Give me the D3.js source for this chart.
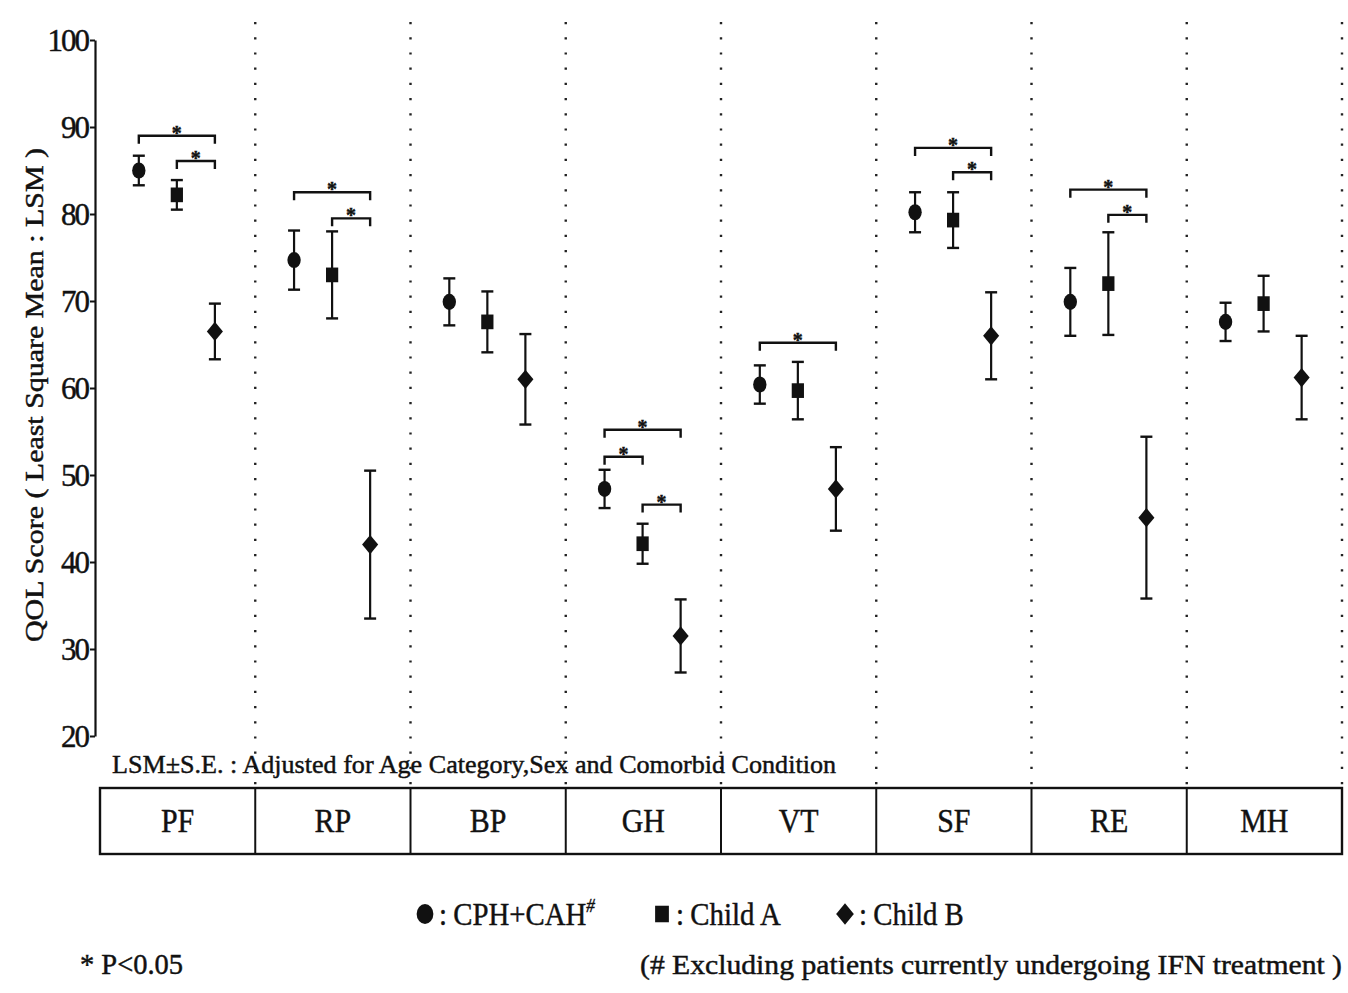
<!DOCTYPE html>
<html><head><meta charset="utf-8">
<script src="https://cdn.jsdelivr.net/npm/d3@7"></script>
<style>body{margin:0;background:#fff}svg{display:block}text{font-family:"Liberation Serif","Times New Roman",serif;fill:#111;stroke:#111;stroke-width:0.45px}</style>
</head><body>
<svg id="c" width="1348" height="993"></svg>
<script>
const categories = ["PF","RP","BP","GH","VT","SF","RE","MH"];
const seriesNames = ["CPH+CAH","Child A","Child B"];
const cphMean   = [85.0, 74.7, 69.9, 48.4, 60.4, 80.2, 69.9, 67.6];
const cphSE     = [1.7, 3.4, 2.7, 2.2, 2.2, 2.3, 3.9, 2.2];
const childAMean= [82.2, 73.0, 67.6, 42.1, 59.7, 79.3, 72.0, 69.7];
const childASE  = [1.7, 5.0, 3.5, 2.3, 3.3, 3.2, 5.9, 3.2];
const childBMean= [66.5, 42.0, 61.0, 31.5, 48.4, 66.0, 45.1, 61.2];
const childBSE  = [3.2, 8.5, 5.2, 4.2, 4.8, 5.0, 9.3, 4.8];
const yTicks = [20,30,40,50,60,70,80,90,100];
// significance brackets (category, from series, to series, level in score units)
const sigCategory = ["PF","PF","RP","RP","GH","GH","GH","VT","SF","SF","RE","RE"];
const sigFrom     = [0,1,0,1,0,0,1,0,0,1,0,1];
const sigTo       = [2,2,2,2,2,1,2,2,2,2,2,2];
const sigLevel    = [89.0,86.1,82.5,79.5,55.2,52.1,46.6,65.2,87.6,84.8,82.8,79.9];

const svg = d3.select("#c");
const x = d3.scaleBand().domain(categories).range([100,1342]).padding(0);
const sub = d3.scalePoint().domain([0,1,2]).range([0.25,0.74]);
const y = d3.scaleLinear().domain([20,100]).range([736,40]);
const px = (c,s) => x(c) + sub(s)*x.bandwidth();

// dotted separators
categories.forEach(c=>{
  svg.append("line").attr("x1",x(c)+x.bandwidth()).attr("x2",x(c)+x.bandwidth())
    .attr("y1",22).attr("y2",787).attr("stroke","#222").attr("stroke-width",2.4)
    .attr("stroke-dasharray","2.2,13").attr("stroke-linecap","butt");
});

// y axis
const ax = svg.append("g").attr("transform","translate(95,0)")
  .call(d3.axisLeft(y).tickValues(yTicks).tickSize(5).tickSizeOuter(0).tickPadding(2));
ax.select(".domain").attr("stroke","#111").attr("stroke-width",2.2);
ax.selectAll(".tick line").attr("stroke","#111").attr("stroke-width",2);
ax.selectAll(".tick text").attr("font-size",31).attr("font-family","Liberation Serif")
  .attr("fill","#111").attr("dy","0.34em").attr("letter-spacing","-2");

svg.append("text").attr("transform","translate(43,395) rotate(-90)")
  .attr("text-anchor","middle").attr("font-size",25)
  .attr("textLength",494).attr("lengthAdjust","spacingAndGlyphs")
  .text("QOL Score ( Least Square Mean : LSM )");

// series
const series = [
  {mean:cphMean, se:cphSE, sym:d3.symbolCircle, size:140},
  {mean:childAMean, se:childASE, sym:d3.symbolSquare, size:150},
  {mean:childBMean, se:childBSE, sym:d3.symbolDiamond2, size:165}
];
series.forEach((s,si)=>{
  const g = svg.append("g");
  categories.forEach((c,i)=>{
    const cx = px(c,si), m = s.mean[i], e = s.se[i];
    g.append("line").attr("x1",cx).attr("x2",cx).attr("y1",y(m+e)).attr("y2",y(m-e))
      .attr("stroke","#111").attr("stroke-width",2.2);
    [m+e,m-e].forEach(v=>g.append("line").attr("x1",cx-6).attr("x2",cx+6)
      .attr("y1",y(v)).attr("y2",y(v)).attr("stroke","#111").attr("stroke-width",2.4));
    g.append("path").attr("d",d3.symbol(s.sym,s.size)())
      .attr("transform",`translate(${cx},${y(m)}) scale(1,1.2)`).attr("fill","#111");
  });
});

// significance brackets
sigCategory.forEach((c,i)=>{
  const x1 = px(c,sigFrom[i]), x2 = px(c,sigTo[i]), yy = y(sigLevel[i]);
  svg.append("path").attr("d",`M${x1},${yy+8}V${yy}H${x2}V${yy+8}`)
    .attr("fill","none").attr("stroke","#111").attr("stroke-width",2.4);
  svg.append("text").attr("x",(x1+x2)/2).attr("y",yy+4).attr("text-anchor","middle")
    .attr("font-size",20).attr("font-weight","bold").text("*");
});

// note
svg.append("text").attr("x",112).attr("y",773).attr("font-size",26)
  .attr("textLength",724).attr("lengthAdjust","spacingAndGlyphs")
  .text("LSM\u00B1S.E. : Adjusted for Age Category,Sex and Comorbid Condition");

// category box
svg.append("rect").attr("x",100).attr("y",788).attr("width",1242).attr("height",66)
  .attr("fill","none").attr("stroke","#111").attr("stroke-width",2.4);
categories.forEach((c,i)=>{
  if(i>0) svg.append("line").attr("x1",x(c)).attr("x2",x(c)).attr("y1",788).attr("y2",854)
    .attr("stroke","#111").attr("stroke-width",2);
  const cx = x(c)+x.bandwidth()/2;
  svg.append("text").attr("x",cx).attr("y",832).attr("text-anchor","middle")
    .attr("font-size",34).attr("transform-origin",`${cx} 821`)
    .attr("transform","scale(0.88,1)").text(c);
});

// legend
const lg = svg.append("g");
const legX = [425, 662, 845];
const legSym = [d3.symbolCircle, d3.symbolSquare, d3.symbolDiamond2];
const legSize = [220, 190, 200];
seriesNames.forEach((n,i)=>{
  lg.append("path").attr("d",d3.symbol(legSym[i],legSize[i])())
    .attr("transform",`translate(${legX[i]},914) scale(1,1.2)`).attr("fill","#111");
  const t = lg.append("text").attr("x",legX[i]+14).attr("y",925).attr("font-size",32)
    .attr("transform-origin",`${legX[i]+14} 925`).attr("transform","scale(0.9,1)").text(":");
  t.append("tspan").attr("dx",7).text(n);
  if(i===0) t.append("tspan").attr("dy",-13).attr("font-size",19).attr("font-style","italic").text("#");
});

svg.append("text").attr("x",80).attr("y",974).attr("font-size",29)
  .attr("textLength",103).attr("lengthAdjust","spacingAndGlyphs").text("* P<0.05");
svg.append("text").attr("x",640).attr("y",974).attr("font-size",28)
  .attr("textLength",702).attr("lengthAdjust","spacingAndGlyphs")
  .text("(# Excluding patients currently undergoing IFN treatment )");
</script>
</body></html>
